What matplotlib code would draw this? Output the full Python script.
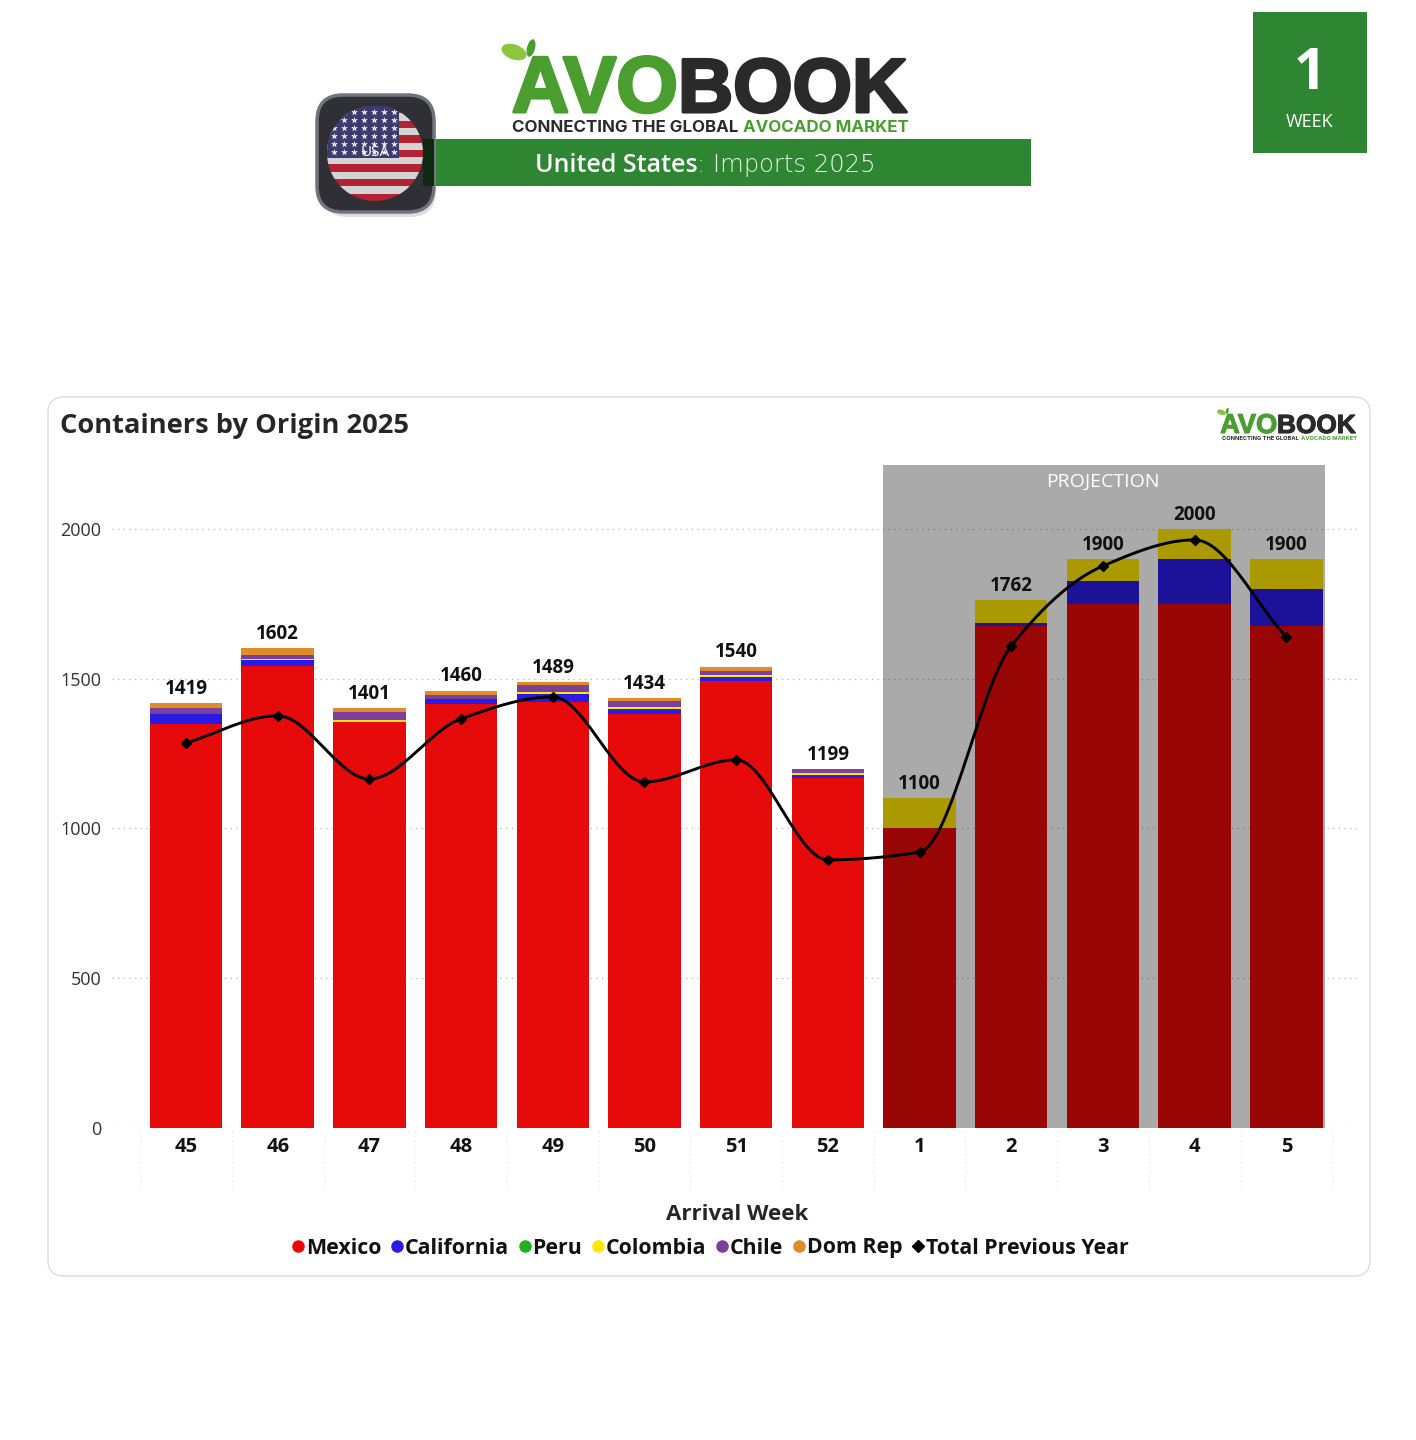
"""Containers by origin, AVOBOOK weekly report -> out.png"""
import numpy as np
import matplotlib
matplotlib.use('Agg')
import matplotlib.pyplot as plt
import matplotlib.patheffects as pe
from matplotlib.lines import Line2D
from matplotlib.patches import Circle, Ellipse, FancyBboxPatch, Rectangle

weeks = ['45', '46', '47', '48', '49', '50', '51', '52', '1', '2', '3', '4', '5']
mexico = [1350, 1542, 1356, 1416, 1423, 1382, 1492, 1169, 1000, 1675, 1750, 1750, 1675]
california = [32, 20, 0, 16, 26, 17, 13, 10, 0, 12, 75, 150, 125]
peru = [0, 0, 0, 0, 0, 0, 0, 0, 0, 0, 0, 0, 0]
colombia = [0, 5, 5, 0, 5, 5, 8, 5, 100, 75, 75, 100, 100]
chile = [21, 13, 28, 14, 25, 20, 13, 15, 0, 0, 0, 0, 0]
dom_rep = [16, 22, 12, 14, 10, 10, 14, 0, 0, 0, 0, 0, 0]
prev_year = [1285, 1376, 1165, 1366, 1439, 1155, 1229, 895, 921, 1609, 1876, 1963, 1639]

series = [('Mexico', mexico, '#e60a0a'), ('California', california, '#2a1ae6'),
          ('Peru', peru, '#22b022'), ('Colombia', colombia, '#ffe600'),
          ('Chile', chile, '#7b3fa0'), ('Dom Rep', dom_rep, '#e08a2a')]

GREEN = '#2e8632'
LOGO_GREEN = '#4a9e2f'
DARK = '#2a2a2a'
plt.rcParams['font.family'] = ['Open Sans', 'DejaVu Sans']


def monotone_curve(y, per_seg=30):
    # smooth line that stays flat at the local peaks, like the BI tool draws it
    y = np.asarray(y, dtype=float)
    d = np.diff(y)
    m = np.zeros(len(y))
    for i in range(1, len(y) - 1):
        if d[i - 1] * d[i] > 0:
            m[i] = 2 * d[i - 1] * d[i] / (d[i - 1] + d[i])
    m[0], m[-1] = d[0], d[-1]
    xs, ys = [], []
    t = np.linspace(0, 1, per_seg)
    for i in range(len(y) - 1):
        h00 = 2 * t**3 - 3 * t**2 + 1
        h10 = t**3 - 2 * t**2 + t
        h01 = -2 * t**3 + 3 * t**2
        h11 = t**3 - t**2
        xs.append(i + t)
        ys.append(h00 * y[i] + h10 * m[i] + h01 * y[i + 1] + h11 * m[i + 1])
    return np.concatenate(xs), np.concatenate(ys)


fig = plt.figure(figsize=(14.16, 14.4), dpi=100, facecolor='white')

# page layer in pixel coordinates: header, card, logos
bg = fig.add_axes([0, 0, 1, 1])
bg.set_xlim(0, 1416)
bg.set_ylim(1440, 0)
bg.axis('off')


def logo(x0, x_mid, x1, y_base, size, stroke, tag_y, tag_size, tag_mid):
    for txt, col, ha, fs in (('AVO', LOGO_GREEN, 'right', size * 1.04), ('BOOK', DARK, 'left', size)):
        t = bg.text(x_mid, y_base, txt, color=col, fontsize=fs, family='Liberation Sans', weight='bold',
                    ha=ha, va='baseline')
        t.set_path_effects([pe.withStroke(linewidth=stroke, foreground=col)])
    scale = (x1 - x0) / 395
    bg.text(tag_mid, tag_y, 'CONNECTING THE GLOBAL', color=DARK, fontsize=tag_size, family='Inter',
            weight='bold', ha='right', va='center')
    bg.text(tag_mid + 5 * scale, tag_y, 'AVOCADO MARKET', color=LOGO_GREEN, fontsize=tag_size,
            family='Inter', weight='bold', ha='left', va='center')
    bg.add_patch(Ellipse((x0 + 4 * scale, y_base - 60 * scale), 26 * scale, 15 * scale, angle=20, fc='#8cc63f', ec='none'))
    bg.add_patch(Ellipse((x0 + 21 * scale, y_base - 64 * scale), 8 * scale, 18 * scale, angle=15, fc=LOGO_GREEN, ec='none'))


logo(510, 678, 905, 112, 55, 2.2, 128, 12.2, 738)

# green banner and flag badge
bg.add_patch(Rectangle((435, 139), 596, 47, fc=GREEN, ec='none'))
bg.text(535, 165, 'United States', color='white', fontsize=18, weight='semibold', ha='left', va='center')
bg.text(697, 165, ': Imports 2025', color='#eef5ee', fontsize=17.5, family='DejaVu Sans', weight='light',
        ha='left', va='center')

bg.add_patch(FancyBboxPatch((322, 104), 114, 113, boxstyle='round,pad=0,rounding_size=26', fc='#c4c4c4',
                            ec='none', alpha=0.55))
bg.add_patch(FancyBboxPatch((317, 95), 117, 117, boxstyle='round,pad=0,rounding_size=26', fc='#2f2f36',
                            ec='#73737c', lw=2.5))
bg.add_patch(Rectangle((423, 139), 11, 47, fc='#0d2a10', ec='none'))
disc = Circle((375, 153), 48, transform=bg.transData)
stripe_h = 95 / 13
for i in range(13):
    stripe = Rectangle((327, 106 + i * stripe_h), 96, stripe_h, fc='#b22234' if i % 2 == 0 else '#d4d4d4', ec='none')
    bg.add_patch(stripe)
    stripe.set_clip_path(disc)
canton = Rectangle((327, 106), 72, 52, fc='#3c3b6e', ec='none')
bg.add_patch(canton)
canton.set_clip_path(disc)
star_x, star_y = np.meshgrid(np.arange(334, 398, 10), np.arange(112, 156, 8))
stars = bg.scatter(star_x.ravel(), star_y.ravel(), marker='*', s=26, color='#e8e8f0', linewidths=0)
stars.set_clip_path(disc)
bg.text(375, 153, 'USA', color='white', fontsize=11, ha='center', va='center')

# week box
bg.add_patch(Rectangle((1253, 12), 114, 141, fc=GREEN, ec='none'))
bg.text(1310, 74, '1', color='white', fontsize=41, weight='bold', ha='center', va='center')
bg.text(1310, 122, 'WEEK', color='white', fontsize=13, ha='center', va='center')

# chart card
bg.add_patch(FancyBboxPatch((48, 397), 1322, 879, boxstyle='round,pad=0,rounding_size=16', fc='white',
                            ec='#dcdcdc', lw=1.0))
bg.text(60, 426, 'Containers by Origin 2025', color='#262626', fontsize=19.6, weight='bold', ha='left', va='center')
logo(1220, 1277, 1356, 433, 18.9, 0.8, 439, 4.15, 1299)

# main chart
ax = fig.add_axes([112 / 1416, (1440 - 1128) / 1440, 1248 / 1416, 663 / 1440])
ax.patch.set_alpha(0)
x = np.arange(len(weeks))
bottom = np.zeros(len(weeks))
for name, values, color in series:
    ax.bar(x, values, width=0.79, bottom=bottom, color=color, zorder=2, linewidth=0)
    bottom += np.array(values)

ax.set_xlim(-0.807, 12.803)
ax.set_ylim(0, 2213)
ax.set_yticks([0, 500, 1000, 1500, 2000])
ax.set_xticks(x)
ax.set_xticklabels(weeks, fontsize=14.5, weight='bold', color='#111111')
ax.tick_params(axis='x', length=0, pad=6.5)
ax.tick_params(axis='y', length=0, pad=7.8, labelsize=13, labelcolor='#333333')
for s in ax.spines.values():
    s.set_visible(False)
ax.yaxis.grid(True, ls=(0, (1, 3.5)), lw=0.9, color='#b5b5b5', zorder=1)
ax.set_axisbelow(True)

# faint category separators under the axis
ax.vlines(np.arange(-0.5, 13), -0.094, 0, transform=ax.get_xaxis_transform(), clip_on=False,
          color='#e2e2e2', lw=0.8, ls=(0, (1, 3)))

# projection band darkens everything below it
ax.axvspan(7.6, 12.42, color='black', alpha=0.335, lw=0, zorder=3)
ax.text(10, 2158, 'PROJECTION', color='white', fontsize=14, ha='center', va='center', zorder=6)

cx, cy = monotone_curve(prev_year)
ax.plot(cx, cy, color='black', lw=2.1, zorder=4)
ax.plot(x, prev_year, ls='none', marker='D', ms=5, color='black', zorder=5)

for i, total in enumerate(bottom):
    ax.annotate(f'{int(total)}', (x[i], total), xytext=(0, 3), textcoords='offset points', ha='center',
                va='bottom', fontsize=13.5, weight='bold', color='#111111', zorder=6)

ax.text(737, 1215, 'Arrival Week', transform=bg.transData, fontsize=16, weight='bold', color='#262626',
        ha='center', va='center')

handles = [Line2D([], [], ls='none', marker='o', ms=8, color=c, label=n) for n, _, c in series]
handles.append(Line2D([], [], ls='none', marker='D', ms=6, color='black', label='Total Previous Year'))
leg = fig.legend(handles=handles, loc='center', bbox_to_anchor=(708 / 1416, (1440 - 1248) / 1440), ncol=7,
                 frameon=False, handletextpad=-0.15, columnspacing=0.25, handlelength=1.0,
                 prop={'size': 15.4, 'weight': 'bold', 'family': 'Open Sans'})
for t in leg.get_texts():
    t.set_color('#111111')

plt.savefig('out.png', dpi=100)
